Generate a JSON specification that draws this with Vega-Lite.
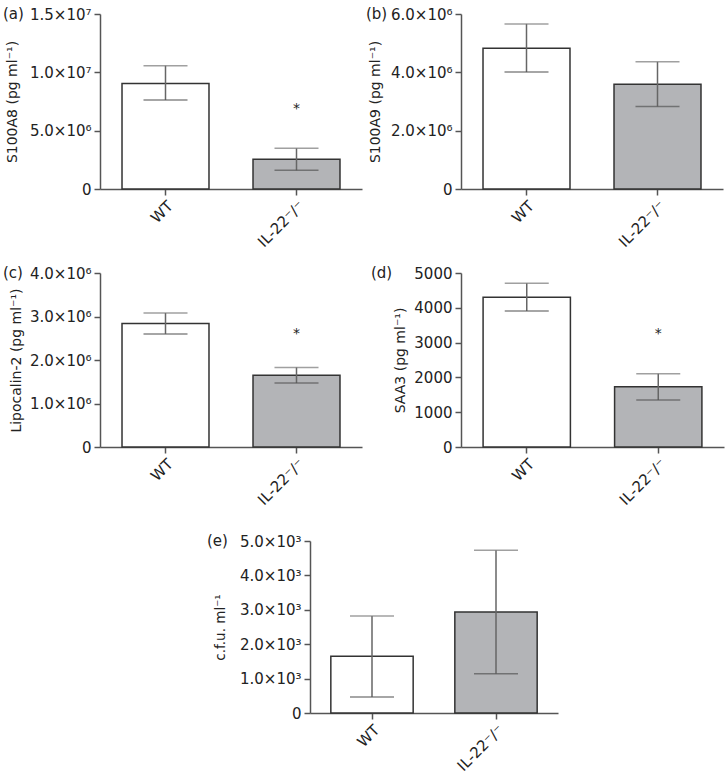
{
  "$schema": "https://vega.github.io/schema/vega-lite/v6.json",
  "padding": {"left": 3, "top": 7, "right": 2, "bottom": 2},
  "background": "#ffffff",
  "data": {"values": [
    {"panel": "a", "group": "WT", "mean": 9050000, "lo": 7630000, "hi": 10570000, "star": "", "star_y": null},
    {"panel": "a", "group": "IL-22⁻/⁻", "mean": 2540000, "lo": 1600000, "hi": 3490000, "star": "*", "star_y": 6850000},
    {"panel": "b", "group": "WT", "mean": 4830000, "lo": 4010000, "hi": 5660000, "star": "", "star_y": null},
    {"panel": "b", "group": "IL-22⁻/⁻", "mean": 3590000, "lo": 2830000, "hi": 4360000, "star": "", "star_y": null},
    {"panel": "c", "group": "WT", "mean": 2840000, "lo": 2600000, "hi": 3080000, "star": "", "star_y": null},
    {"panel": "c", "group": "IL-22⁻/⁻", "mean": 1650000, "lo": 1470000, "hi": 1830000, "star": "*", "star_y": 2600000},
    {"panel": "d", "group": "WT", "mean": 4301, "lo": 3908, "hi": 4703, "star": "", "star_y": null},
    {"panel": "d", "group": "IL-22⁻/⁻", "mean": 1734, "lo": 1351, "hi": 2107, "star": "*", "star_y": 3250},
    {"panel": "e", "group": "WT", "mean": 1647, "lo": 465, "hi": 2820, "star": "", "star_y": null},
    {"panel": "e", "group": "IL-22⁻/⁻", "mean": 2936, "lo": 1143, "hi": 4729, "star": "", "star_y": null}
  ]},
  "spacing": 16,
  "vconcat": [
    {
      "hconcat": [
        {
          "width": 262, "height": 175,
          "title": {"text": "(a)", "anchor": "start", "frame": "group", "dx": -97, "offset": -22, "baseline": "middle"},
          "transform": [{"filter": "datum.panel == 'a'"}],
          "encoding": {"x": {"field": "group", "type": "nominal", "sort": ["WT", "IL-22⁻/⁻"], "scale": {"paddingInner": 0.336, "paddingOuter": 0.168}, "axis": {"title": null, "labelAngle": -45}}},
          "layer": [
            {"mark": {"type": "bar", "stroke": "#333", "strokeWidth": 1.5},
             "encoding": {
               "y": {"field": "mean", "type": "quantitative", "title": "S100A8 (pg ml⁻¹)", "scale": {"domain": [0, 15000000]}, "axis": {"values": [0, 5000000, 10000000, 15000000], "labelExpr": "datum.value == 0 ? '0' : datum.value < 9000000 ? format(datum.value/1e6, '.1f') + '×10⁶' : format(datum.value/1e7, '.1f') + '×10⁷'", "titlePadding": 10}},
               "fill": {"field": "group", "type": "nominal", "scale": {"domain": ["WT", "IL-22⁻/⁻"], "range": ["#ffffff", "#b3b4b7"]}, "legend": null}}},
            {"mark": {"type": "rule", "color": "#666", "strokeWidth": 1.5},
             "encoding": {"y": {"field": "lo", "type": "quantitative", "title": "S100A8 (pg ml⁻¹)", "scale": {"domain": [0, 15000000]}, "axis": {"values": [0, 5000000, 10000000, 15000000], "labelExpr": "datum.value == 0 ? '0' : datum.value < 9000000 ? format(datum.value/1e6, '.1f') + '×10⁶' : format(datum.value/1e7, '.1f') + '×10⁷'", "titlePadding": 10}}, "y2": {"field": "hi"}}},
            {"mark": {"type": "tick", "color": "#555", "size": 44, "thickness": 1.5},
             "encoding": {"y": {"field": "lo", "type": "quantitative", "title": "S100A8 (pg ml⁻¹)", "scale": {"domain": [0, 15000000]}, "axis": {"values": [0, 5000000, 10000000, 15000000], "labelExpr": "datum.value == 0 ? '0' : datum.value < 9000000 ? format(datum.value/1e6, '.1f') + '×10⁶' : format(datum.value/1e7, '.1f') + '×10⁷'", "titlePadding": 10}}}},
            {"mark": {"type": "tick", "color": "#777", "size": 44, "thickness": 1.5},
             "encoding": {"y": {"field": "hi", "type": "quantitative", "title": "S100A8 (pg ml⁻¹)", "scale": {"domain": [0, 15000000]}, "axis": {"values": [0, 5000000, 10000000, 15000000], "labelExpr": "datum.value == 0 ? '0' : datum.value < 9000000 ? format(datum.value/1e6, '.1f') + '×10⁶' : format(datum.value/1e7, '.1f') + '×10⁷'", "titlePadding": 10}}}},
            {"mark": {"type": "text", "fontSize": 14, "baseline": "middle", "color": "#222"},
             "encoding": {"y": {"field": "star_y", "type": "quantitative", "title": "S100A8 (pg ml⁻¹)", "scale": {"domain": [0, 15000000]}, "axis": {"values": [0, 5000000, 10000000, 15000000], "labelExpr": "datum.value == 0 ? '0' : datum.value < 9000000 ? format(datum.value/1e6, '.1f') + '×10⁶' : format(datum.value/1e7, '.1f') + '×10⁷'", "titlePadding": 10}}, "text": {"field": "star"}}}
          ]
        },
        {
          "width": 262, "height": 175,
          "title": {"text": "(b)", "anchor": "start", "frame": "group", "dx": -95, "offset": -22, "baseline": "middle"},
          "transform": [{"filter": "datum.panel == 'b'"}],
          "encoding": {"x": {"field": "group", "type": "nominal", "sort": ["WT", "IL-22⁻/⁻"], "scale": {"paddingInner": 0.336, "paddingOuter": 0.168}, "axis": {"title": null, "labelAngle": -45}}},
          "layer": [
            {"mark": {"type": "bar", "stroke": "#333", "strokeWidth": 1.5},
             "encoding": {
               "y": {"field": "mean", "type": "quantitative", "title": "S100A9 (pg ml⁻¹)", "scale": {"domain": [0, 6000000]}, "axis": {"values": [0, 2000000, 4000000, 6000000], "labelExpr": "datum.value == 0 ? '0' : format(datum.value/1e6, '.1f') + '×10⁶'", "titlePadding": 8}},
               "fill": {"field": "group", "type": "nominal", "scale": {"domain": ["WT", "IL-22⁻/⁻"], "range": ["#ffffff", "#b3b4b7"]}, "legend": null}}},
            {"mark": {"type": "rule", "color": "#666", "strokeWidth": 1.5},
             "encoding": {"y": {"field": "lo", "type": "quantitative", "title": "S100A9 (pg ml⁻¹)", "scale": {"domain": [0, 6000000]}, "axis": {"values": [0, 2000000, 4000000, 6000000], "labelExpr": "datum.value == 0 ? '0' : format(datum.value/1e6, '.1f') + '×10⁶'", "titlePadding": 8}}, "y2": {"field": "hi"}}},
            {"mark": {"type": "tick", "color": "#555", "size": 44, "thickness": 1.5},
             "encoding": {"y": {"field": "lo", "type": "quantitative", "title": "S100A9 (pg ml⁻¹)", "scale": {"domain": [0, 6000000]}, "axis": {"values": [0, 2000000, 4000000, 6000000], "labelExpr": "datum.value == 0 ? '0' : format(datum.value/1e6, '.1f') + '×10⁶'", "titlePadding": 8}}}},
            {"mark": {"type": "tick", "color": "#777", "size": 44, "thickness": 1.5},
             "encoding": {"y": {"field": "hi", "type": "quantitative", "title": "S100A9 (pg ml⁻¹)", "scale": {"domain": [0, 6000000]}, "axis": {"values": [0, 2000000, 4000000, 6000000], "labelExpr": "datum.value == 0 ? '0' : format(datum.value/1e6, '.1f') + '×10⁶'", "titlePadding": 8}}}}
          ]
        }
      ],
      "spacing": 99,
      "bounds": "flush"
    },
    {
      "hconcat": [
        {
          "width": 262, "height": 174,
          "title": {"text": "(c)", "anchor": "start", "frame": "group", "dx": -97, "offset": -22, "baseline": "middle"},
          "transform": [{"filter": "datum.panel == 'c'"}],
          "encoding": {"x": {"field": "group", "type": "nominal", "sort": ["WT", "IL-22⁻/⁻"], "scale": {"paddingInner": 0.336, "paddingOuter": 0.168}, "axis": {"title": null, "labelAngle": -45}}},
          "layer": [
            {"mark": {"type": "bar", "stroke": "#333", "strokeWidth": 1.5},
             "encoding": {
               "y": {"field": "mean", "type": "quantitative", "title": "Lipocalin-2 (pg ml⁻¹)", "scale": {"domain": [0, 4000000]}, "axis": {"values": [0, 1000000, 2000000, 3000000, 4000000], "labelExpr": "datum.value == 0 ? '0' : format(datum.value/1e6, '.1f') + '×10⁶'", "titlePadding": 6}},
               "fill": {"field": "group", "type": "nominal", "scale": {"domain": ["WT", "IL-22⁻/⁻"], "range": ["#ffffff", "#b3b4b7"]}, "legend": null}}},
            {"mark": {"type": "rule", "color": "#666", "strokeWidth": 1.5},
             "encoding": {"y": {"field": "lo", "type": "quantitative", "title": "Lipocalin-2 (pg ml⁻¹)", "scale": {"domain": [0, 4000000]}, "axis": {"values": [0, 1000000, 2000000, 3000000, 4000000], "labelExpr": "datum.value == 0 ? '0' : format(datum.value/1e6, '.1f') + '×10⁶'", "titlePadding": 6}}, "y2": {"field": "hi"}}},
            {"mark": {"type": "tick", "color": "#555", "size": 44, "thickness": 1.5},
             "encoding": {"y": {"field": "lo", "type": "quantitative", "title": "Lipocalin-2 (pg ml⁻¹)", "scale": {"domain": [0, 4000000]}, "axis": {"values": [0, 1000000, 2000000, 3000000, 4000000], "labelExpr": "datum.value == 0 ? '0' : format(datum.value/1e6, '.1f') + '×10⁶'", "titlePadding": 6}}}},
            {"mark": {"type": "tick", "color": "#777", "size": 44, "thickness": 1.5},
             "encoding": {"y": {"field": "hi", "type": "quantitative", "title": "Lipocalin-2 (pg ml⁻¹)", "scale": {"domain": [0, 4000000]}, "axis": {"values": [0, 1000000, 2000000, 3000000, 4000000], "labelExpr": "datum.value == 0 ? '0' : format(datum.value/1e6, '.1f') + '×10⁶'", "titlePadding": 6}}}},
            {"mark": {"type": "text", "fontSize": 14, "baseline": "middle", "color": "#222"},
             "encoding": {"y": {"field": "star_y", "type": "quantitative", "title": "Lipocalin-2 (pg ml⁻¹)", "scale": {"domain": [0, 4000000]}, "axis": {"values": [0, 1000000, 2000000, 3000000, 4000000], "labelExpr": "datum.value == 0 ? '0' : format(datum.value/1e6, '.1f') + '×10⁶'", "titlePadding": 6}}, "text": {"field": "star"}}}
          ]
        },
        {
          "width": 263, "height": 174,
          "title": {"text": "(d)", "anchor": "start", "frame": "group", "dx": -90, "offset": -22, "baseline": "middle"},
          "transform": [{"filter": "datum.panel == 'd'"}],
          "encoding": {"x": {"field": "group", "type": "nominal", "sort": ["WT", "IL-22⁻/⁻"], "scale": {"paddingInner": 0.336, "paddingOuter": 0.168}, "axis": {"title": null, "labelAngle": -45}}},
          "layer": [
            {"mark": {"type": "bar", "stroke": "#333", "strokeWidth": 1.5},
             "encoding": {
               "y": {"field": "mean", "type": "quantitative", "title": "SAA3 (pg ml⁻¹)", "scale": {"domain": [0, 5000]}, "axis": {"values": [0, 1000, 2000, 3000, 4000, 5000], "format": "d", "titlePadding": 6}},
               "fill": {"field": "group", "type": "nominal", "scale": {"domain": ["WT", "IL-22⁻/⁻"], "range": ["#ffffff", "#b3b4b7"]}, "legend": null}}},
            {"mark": {"type": "rule", "color": "#666", "strokeWidth": 1.5},
             "encoding": {"y": {"field": "lo", "type": "quantitative", "title": "SAA3 (pg ml⁻¹)", "scale": {"domain": [0, 5000]}, "axis": {"values": [0, 1000, 2000, 3000, 4000, 5000], "format": "d", "titlePadding": 6}}, "y2": {"field": "hi"}}},
            {"mark": {"type": "tick", "color": "#555", "size": 44, "thickness": 1.5},
             "encoding": {"y": {"field": "lo", "type": "quantitative", "title": "SAA3 (pg ml⁻¹)", "scale": {"domain": [0, 5000]}, "axis": {"values": [0, 1000, 2000, 3000, 4000, 5000], "format": "d", "titlePadding": 6}}}},
            {"mark": {"type": "tick", "color": "#777", "size": 44, "thickness": 1.5},
             "encoding": {"y": {"field": "hi", "type": "quantitative", "title": "SAA3 (pg ml⁻¹)", "scale": {"domain": [0, 5000]}, "axis": {"values": [0, 1000, 2000, 3000, 4000, 5000], "format": "d", "titlePadding": 6}}}},
            {"mark": {"type": "text", "fontSize": 14, "baseline": "middle", "color": "#222"},
             "encoding": {"y": {"field": "star_y", "type": "quantitative", "title": "SAA3 (pg ml⁻¹)", "scale": {"domain": [0, 5000]}, "axis": {"values": [0, 1000, 2000, 3000, 4000, 5000], "format": "d", "titlePadding": 6}}, "text": {"field": "star"}}}
          ]
        }
      ],
      "spacing": 99,
      "bounds": "flush"
    },
    {
      "hconcat": [
        {
          "width": 210, "height": 172,
          "title": {"text": " ", "offset": -13, "baseline": "bottom"},
          "data": {"values": []},
          "mark": {"type": "point", "opacity": 0}
        },
        {
          "width": 248, "height": 172,
          "title": {"text": "(e)", "anchor": "start", "frame": "group", "dx": -103, "offset": -22, "baseline": "middle"},
          "transform": [{"filter": "datum.panel == 'e'"}],
          "encoding": {"x": {"field": "group", "type": "nominal", "sort": ["WT", "IL-22⁻/⁻"], "scale": {"paddingInner": 0.336, "paddingOuter": 0.168}, "axis": {"title": null, "labelAngle": -45}}},
          "layer": [
            {"mark": {"type": "bar", "stroke": "#333", "strokeWidth": 1.5},
             "encoding": {
               "y": {"field": "mean", "type": "quantitative", "title": "c.f.u. ml⁻¹", "scale": {"domain": [0, 5000]}, "axis": {"values": [0, 1000, 2000, 3000, 4000, 5000], "labelExpr": "datum.value == 0 ? '0' : format(datum.value/1e3, '.1f') + '×10³'", "titlePadding": 12, "titleFontSize": 13.5}},
               "fill": {"field": "group", "type": "nominal", "scale": {"domain": ["WT", "IL-22⁻/⁻"], "range": ["#ffffff", "#b3b4b7"]}, "legend": null}}},
            {"mark": {"type": "rule", "color": "#666", "strokeWidth": 1.5},
             "encoding": {"y": {"field": "lo", "type": "quantitative", "title": "c.f.u. ml⁻¹", "scale": {"domain": [0, 5000]}, "axis": {"values": [0, 1000, 2000, 3000, 4000, 5000], "labelExpr": "datum.value == 0 ? '0' : format(datum.value/1e3, '.1f') + '×10³'", "titlePadding": 12, "titleFontSize": 13.5}}, "y2": {"field": "hi"}}},
            {"mark": {"type": "tick", "color": "#555", "size": 44, "thickness": 1.5},
             "encoding": {"y": {"field": "lo", "type": "quantitative", "title": "c.f.u. ml⁻¹", "scale": {"domain": [0, 5000]}, "axis": {"values": [0, 1000, 2000, 3000, 4000, 5000], "labelExpr": "datum.value == 0 ? '0' : format(datum.value/1e3, '.1f') + '×10³'", "titlePadding": 12, "titleFontSize": 13.5}}}},
            {"mark": {"type": "tick", "color": "#777", "size": 44, "thickness": 1.5},
             "encoding": {"y": {"field": "hi", "type": "quantitative", "title": "c.f.u. ml⁻¹", "scale": {"domain": [0, 5000]}, "axis": {"values": [0, 1000, 2000, 3000, 4000, 5000], "labelExpr": "datum.value == 0 ? '0' : format(datum.value/1e3, '.1f') + '×10³'", "titlePadding": 12, "titleFontSize": 13.5}}}}
          ]
        }
      ],
      "spacing": 0,
      "bounds": "flush"
    }
  ],
  "config": {
    "font": "DejaVu Sans",
    "view": {"stroke": null},
    "title": {"font": "DejaVu Sans", "fontSize": 15, "fontWeight": "normal", "color": "#222"},
    "axis": {
      "grid": false,
      "domainColor": "#555", "tickColor": "#555", "domainWidth": 1.5, "tickWidth": 1.5, "tickSize": 6,
      "labelColor": "#222", "titleColor": "#222",
      "labelFont": "DejaVu Sans", "titleFont": "DejaVu Sans",
      "labelFontSize": 15, "titleFontSize": 14, "titleFontWeight": "normal",
      "labelPadding": 3, "labelOverlap": false
    }
  }
}
